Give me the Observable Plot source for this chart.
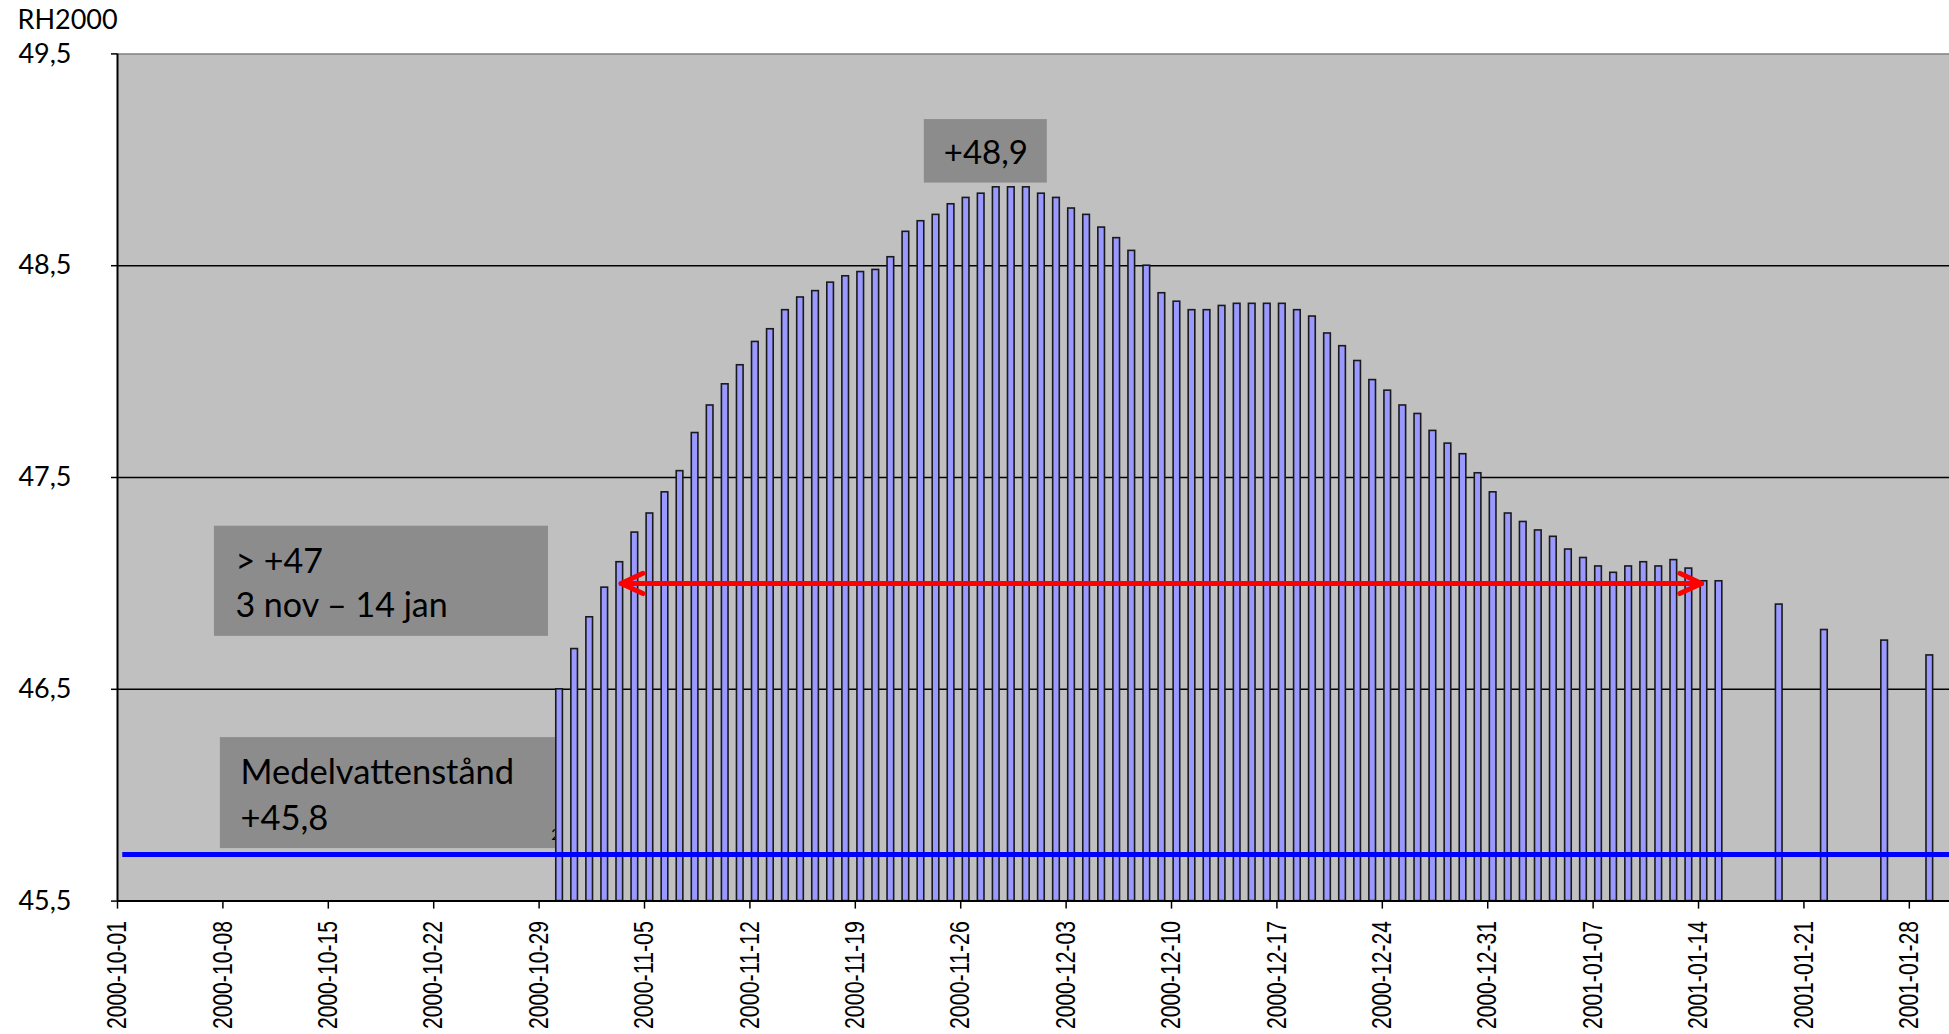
<!DOCTYPE html>
<html>
<head>
<meta charset="utf-8">
<script src="https://cdn.jsdelivr.net/npm/d3@7"></script>
<script src="https://cdn.jsdelivr.net/npm/@observablehq/plot@0.6"></script>
<style>
  html, body { margin: 0; padding: 0; background: #ffffff; overflow: hidden; }
  #chart svg { display: block; }
  .xlab text { font-family: "Liberation Sans Narrow", "Arial Narrow", "Liberation Sans", Arial, sans-serif; }
</style>
</head>
<body>
<div id="chart"></div>
<script>
// ---------- data ----------
const levelDates = [
  "2000-10-30","2000-10-31",
  "2000-11-01","2000-11-02","2000-11-03","2000-11-04","2000-11-05","2000-11-06","2000-11-07","2000-11-08","2000-11-09","2000-11-10",
  "2000-11-11","2000-11-12","2000-11-13","2000-11-14","2000-11-15","2000-11-16","2000-11-17","2000-11-18","2000-11-19","2000-11-20",
  "2000-11-21","2000-11-22","2000-11-23","2000-11-24","2000-11-25","2000-11-26","2000-11-27","2000-11-28","2000-11-29","2000-11-30",
  "2000-12-01","2000-12-02","2000-12-03","2000-12-04","2000-12-05","2000-12-06","2000-12-07","2000-12-08","2000-12-09","2000-12-10",
  "2000-12-11","2000-12-12","2000-12-13","2000-12-14","2000-12-15","2000-12-16","2000-12-17","2000-12-18","2000-12-19","2000-12-20",
  "2000-12-21","2000-12-22","2000-12-23","2000-12-24","2000-12-25","2000-12-26","2000-12-27","2000-12-28","2000-12-29","2000-12-30","2000-12-31",
  "2001-01-01","2001-01-02","2001-01-03","2001-01-04","2001-01-05","2001-01-06","2001-01-07","2001-01-08","2001-01-09","2001-01-10",
  "2001-01-11","2001-01-12","2001-01-13","2001-01-14","2001-01-15",
  "2001-01-19","2001-01-22","2001-01-26","2001-01-29"
];
const levelValues = [
  46.50, 46.69,
  46.84, 46.98, 47.10, 47.24, 47.33, 47.43, 47.53, 47.71, 47.84, 47.94,
  48.03, 48.14, 48.20, 48.29, 48.35, 48.38, 48.42, 48.45, 48.47, 48.48,
  48.54, 48.66, 48.71, 48.74, 48.79, 48.82, 48.84, 48.87, 48.87, 48.87,
  48.84, 48.82, 48.77, 48.74, 48.68, 48.63, 48.57, 48.50, 48.37, 48.33,
  48.29, 48.29, 48.31, 48.32, 48.32, 48.32, 48.32, 48.29, 48.26, 48.18,
  48.12, 48.05, 47.96, 47.91, 47.84, 47.80, 47.72, 47.66, 47.61, 47.52, 47.43,
  47.33, 47.29, 47.25, 47.22, 47.16, 47.12, 47.08, 47.05, 47.08, 47.10,
  47.08, 47.11, 47.07, 47.01, 47.01,
  46.90, 46.78, 46.73, 46.66
];
const xTickLabels = [
  "2000-10-01","2000-10-08","2000-10-15","2000-10-22","2000-10-29","2000-11-05",
  "2000-11-12","2000-11-19","2000-11-26","2000-12-03","2000-12-10","2000-12-17",
  "2000-12-24","2000-12-31","2001-01-07","2001-01-14","2001-01-21","2001-01-28"
];
const yTicks = [45.5, 46.5, 47.5, 48.5, 49.5];
const gridLevels = [46.5, 47.5, 48.5];
const xDomain = ["2000-10-01", "2001-01-31"];
const yDomain = [45.5, 49.5];
const yAxisTitle = "RH2000";
const meanLevel = 45.72;
const meanLabel = ["Medelvattenstånd", "+45,8"];
const peakLabel = "+48,9";
const spanLabel = ["> +47", "3 nov – 14 jan"];
const spanFrom = "2000-11-03";
const spanTo = "2001-01-14";
const spanLevel = 47.0;
const stray = "2";

// ---------- build ----------
const parse = d3.utcParse("%Y-%m-%d");
const DAY = 864e5;
const shift = (d, days) => new Date(+d + days * DAY);
const T = (s) => new Date(s);
const levels = levelDates.map((d, i) => ({date: parse(d), value: levelValues[i]}));
const x0 = parse(xDomain[0]), x1 = parse(xDomain[1]);
const fmtY = (d) => d.toFixed(1).replace(".", ",");
const fmtX = d3.utcFormat("%Y-%m-%d");
const annoFont = "Lato, 'Open Sans', sans-serif";
const boxFill = "#8c8c8c";

const boxes = [
  {x1: T("2000-10-07T10:30Z"), x2: T("2000-10-29T15:00Z"), y1: 46.75, y2: 47.27},
  {x1: T("2000-10-07T20:00Z"), x2: T("2000-10-30T02:00Z"), y1: 45.748, y2: 46.272},
  {x1: T("2000-11-23T14:00Z"), x2: T("2000-12-01T18:00Z"), y1: 48.89, y2: 49.19}
];

const chart = Plot.plot({
  width: 1949,
  height: 1034,
  marginLeft: 117,
  marginRight: -5,
  marginTop: 53.4,
  marginBottom: 133.4,
  style: {fontFamily: annoFont, background: "#ffffff", color: "#000"},
  x: {type: "utc", domain: [x0, x1]},
  y: {domain: yDomain},
  marks: [
    Plot.frame({fill: "#c0c0c0", stroke: "none"}),
    Plot.ruleY([yDomain[1]], {stroke: "#808080", strokeWidth: 1.5}),
    Plot.ruleY(gridLevels, {stroke: "#000", strokeWidth: 1.4}),
    Plot.rect(boxes, {x1: "x1", x2: "x2", y1: "y1", y2: "y2", fill: boxFill}),
    Plot.text([stray], {x: shift(parse(levelDates[0]), 0.1), y: 45.81, fontSize: 15, fill: "#000"}),
    Plot.rect(levels, {
      x1: (d) => shift(d.date, 0.14), x2: (d) => shift(d.date, 0.58),
      y1: yDomain[0], y2: "value",
      fill: "#9999ff", stroke: "#1a1a1a", strokeWidth: 1.6
    }),
    Plot.text([spanLabel[0]], {x: T("2000-10-08T20:00Z"), y: 47.05, textAnchor: "start", lineAnchor: "bottom", fontSize: 34}),
    Plot.text([spanLabel[1]], {x: T("2000-10-08T20:00Z"), y: 46.84, textAnchor: "start", lineAnchor: "bottom", fontSize: 34}),
    Plot.text([meanLabel[0]], {x: T("2000-10-09T04:00Z"), y: 46.055, textAnchor: "start", lineAnchor: "bottom", fontSize: 34.5}),
    Plot.text([meanLabel[1]], {x: T("2000-10-09T04:00Z"), y: 45.838, textAnchor: "start", lineAnchor: "bottom", fontSize: 34.5}),
    Plot.text([peakLabel], {x: T("2000-11-27T16:00Z"), y: 48.98, textAnchor: "middle", lineAnchor: "bottom", fontSize: 33}),
    Plot.ruleY([meanLevel], {x1: shift(x0, 0.35), x2: x1, stroke: "#0000ff", strokeWidth: 5}),
    Plot.arrow([0], {
      x1: shift(parse(spanFrom), 0.45), x2: shift(parse(spanTo), 0.2), y1: spanLevel, y2: spanLevel,
      stroke: "#ff0000", strokeWidth: 5, headLength: 7.2, headAngle: 50,
      strokeLinecap: "round", strokeLinejoin: "round"
    }),
    Plot.arrow([0], {
      x1: shift(parse(spanTo), 0.2), x2: shift(parse(spanFrom), 0.45), y1: spanLevel, y2: spanLevel,
      stroke: "#ff0000", strokeWidth: 5, headLength: 7.2, headAngle: 50,
      strokeLinecap: "round", strokeLinejoin: "round"
    }),
    Plot.ruleX([x0], {stroke: "#000", strokeWidth: 2}),
    Plot.ruleY([yDomain[0]], {stroke: "#000", strokeWidth: 2}),
    Plot.axisY({
      ticks: yTicks, tickSize: 6, tickPadding: 40, tickFormat: fmtY,
      fontSize: 27, fontFamily: annoFont, stroke: "#000", strokeWidth: 1.5, label: null
    }),
    Plot.axisX({
      ticks: xTickLabels.map(parse), tickSize: 8, tickPadding: 12, tickFormat: fmtX,
      tickRotate: -90, fontSize: 27, stroke: "#000", strokeWidth: 1.5, label: null,
      className: "xlab"
    }),
    Plot.text([yAxisTitle], {frameAnchor: "top-left", dx: -100, dy: -25, textAnchor: "start", lineAnchor: "bottom", fontSize: 27})
  ]
});
document.getElementById("chart").appendChild(chart);
// condense the rotated date labels to the narrow width of the original
chart.querySelectorAll(".xlab text").forEach((t) => {
  t.setAttribute("textLength", "108");
  t.setAttribute("lengthAdjust", "spacingAndGlyphs");
});
</script>
</body>
</html>
